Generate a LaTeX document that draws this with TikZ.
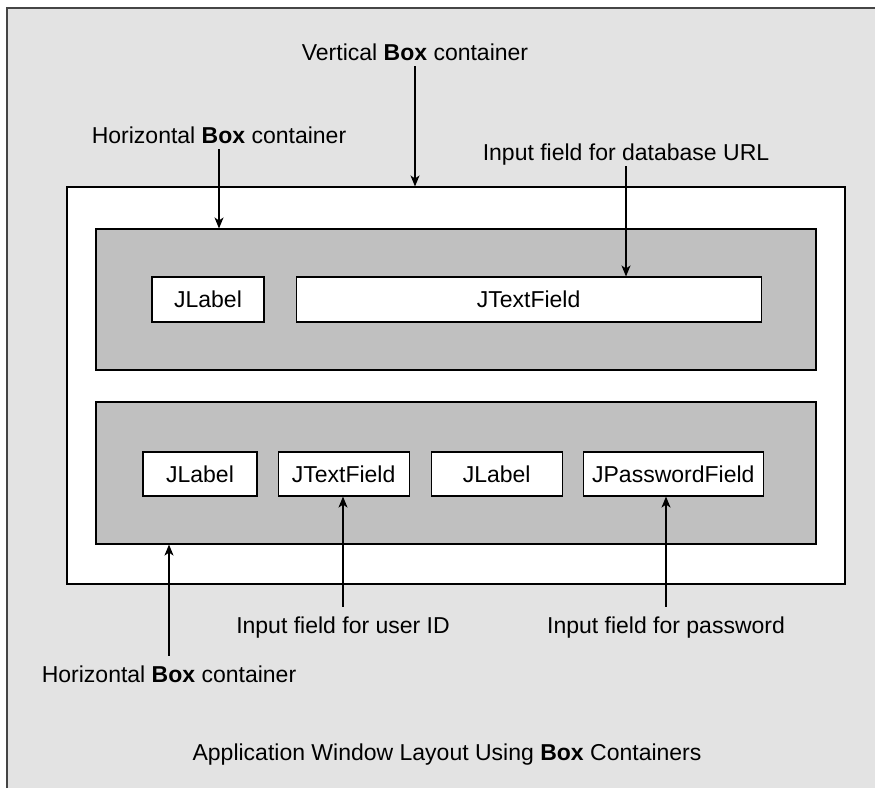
\documentclass[tikz,border=0pt]{standalone}
\usepackage{fontspec}
\setmainfont{Liberation Sans}
\usepackage{tikz}
\usetikzlibrary{arrows.meta,positioning}
\definecolor{winbg}{HTML}{E3E3E3}
\definecolor{rowbg}{HTML}{C0C0C0}
\definecolor{framec}{HTML}{454545}
\newcommand{\boxword}{\textbf{Box}}

\begin{document}
\begin{tikzpicture}[x=1pt,y=-1pt,>={Stealth[length=11pt,width=9pt,inset=3pt]},font=\fontsize{23}{27}\selectfont]
\tikzstyle{panel}=[draw,line width=1.1pt,fill=white,inner sep=0pt]
\tikzstyle{row}=[draw,line width=1.1pt,fill=rowbg,minimum width=720pt,inner sep=0pt]
\tikzstyle{field}=[draw,line width=1.1pt,fill=white,minimum height=44pt,inner sep=0pt]
\tikzstyle{lbl}=[anchor=base,inner sep=0pt,text height=26pt,text depth=6pt]
\tikzstyle{arr}=[->,line width=1.2pt]
\useasboundingbox (0,0) rectangle (875,788);
\fill[white] (0,0) rectangle (875,788);
\fill[winbg] (7,8) rectangle (875,788);
\draw[framec,line width=2pt] (7,788) -- (7,8) -- (875,8);
\node[panel,minimum width=778pt,minimum height=397pt] (vbox) at (456,385.5) {};
\node[row,minimum height=141pt] (hrow1) at (456,299.5) {};
\node[row,minimum height=142pt] (hrow2) at (456,473) {};
\node[field,minimum width=112pt,minimum height=45pt] (urllabel) at (208,299.5) {JLabel};
\node[field,minimum width=465pt,minimum height=45pt,right=31pt of urllabel] (urlfield) {JTextField};
\node[field,minimum width=114pt] (uidlabel) at (200,474) {JLabel};
\node[field,minimum width=131pt,right=20pt of uidlabel] (uidfield) {JTextField};
\node[field,minimum width=131pt,right=21pt of uidfield] (pwlabel) {JLabel};
\node[field,minimum width=180pt,right=20pt of pwlabel] (pwfield) {JPasswordField};
\node[lbl] (vtxt) at (415,60) {Vertical \boxword{} container};
\node[lbl] (htop) at (219,143) {Horizontal \boxword{} container};
\node[lbl] (urltxt) at (626,160) {Input field for database URL};
\node[lbl] (uidtxt) at (343,633) {Input field for user ID};
\node[lbl] (pwtxt) at (666,633) {Input field for password};
\node[lbl] (hbot) at (169,682) {Horizontal \boxword{} container};
\node[lbl] (title) at (447,760) {Application Window Layout Using \boxword{} Containers};
\draw[arr] (vtxt.south) -- (vtxt.south |- vbox.north);
\draw[arr] (htop.south) -- (htop.south |- hrow1.north);
\draw[arr] (urltxt.south) -- (urltxt.south |- urlfield.north);
\draw[arr] (hbot.north) -- (hbot.north |- hrow2.south);
\draw[arr] (uidtxt.north) -- (uidtxt.north |- uidfield.south);
\draw[arr] (pwtxt.north) -- (pwtxt.north |- pwfield.south);
\end{tikzpicture}
\end{document}
